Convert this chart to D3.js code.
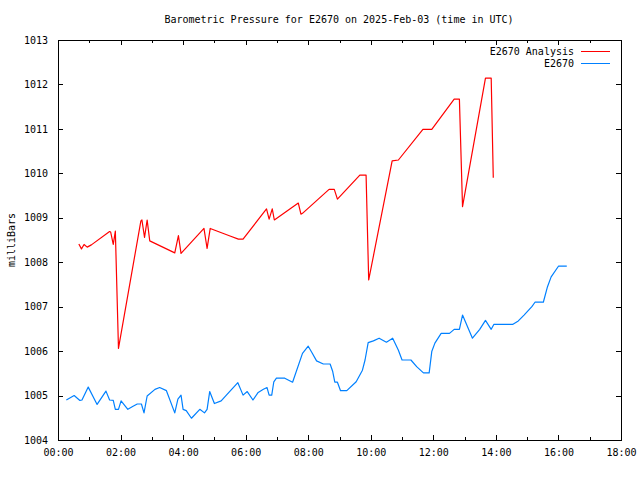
<!DOCTYPE html>
<html>
<head>
<meta charset="utf-8">
<script src="https://cdn.jsdelivr.net/npm/d3@7"></script>
<style>
  html, body { margin: 0; padding: 0; background: #fff; }
  svg { display: block; }
  text { font-family: "DejaVu Sans Mono", "Liberation Mono", monospace; font-size: 10px; fill: #000; }
</style>
</head>
<body>
<svg id="chart" width="640" height="480"></svg>
<script>
const title = "Barometric Pressure for E2670 on 2025-Feb-03 (time in UTC)";
const yLabel = "milliBars";
const seriesNames = ["E2670 Analysis", "E2670"];
const seriesColors = ["#ff0000", "#0080ff"];
const xTickLabels = ["00:00","02:00","04:00","06:00","08:00","10:00","12:00","14:00","16:00","18:00"];
const yTickValues = [1004,1005,1006,1007,1008,1009,1010,1011,1012,1013];

const analysisTimes = ["00:40","00:45","00:50","00:56","01:04","01:39","01:41","01:46","01:50","01:56",
  "02:39","02:41","02:46","02:51","02:56","03:44","03:51","03:56","04:40","04:44","04:46","04:52",
  "05:30","05:46","05:55","06:40","06:45","06:51","06:55","07:41","07:46","07:49","08:40","08:50","08:56",
  "09:39","09:51","09:56","10:41","10:53","11:40","11:57","12:40","12:50","12:56","13:40","13:51","13:55"];
const analysisValues = [1008.41,1008.30,1008.40,1008.34,1008.39,1008.69,1008.68,1008.40,1008.70,1006.06,
  1008.93,1008.95,1008.56,1008.95,1008.48,1008.21,1008.60,1008.20,1008.76,1008.46,1008.31,1008.76,
  1008.59,1008.52,1008.52,1009.20,1008.97,1009.20,1008.95,1009.33,1009.08,1009.10,1009.64,1009.64,1009.42,
  1009.96,1009.96,1007.60,1010.28,1010.30,1010.99,1010.99,1011.67,1011.67,1009.25,1012.14,1012.14,1009.90];

const obsTimes = ["00:16","00:31","00:42","00:46","00:58","01:15","01:32","01:39","01:46","01:50","01:56",
  "02:01","02:14","02:24","02:32","02:40","02:45","02:51","03:06","03:15","03:28","03:44","03:50","03:56",
  "04:00","04:06","04:16","04:32","04:41","04:46","04:51","05:00","05:13","05:23","05:45","05:55",
  "06:03","06:14","06:24","06:34","06:41","06:45","06:50","06:54","06:59","07:15","07:30","07:49",
  "08:00","08:07","08:16","08:29","08:42","08:47","08:51","08:56","09:02","09:14","09:32","09:44","09:49","09:55",
  "10:05","10:16","10:30","10:42","10:53","11:00","11:17","11:28","11:41","11:52","11:57",
  "12:03","12:15","12:31","12:40","12:50","12:56","13:15","13:29","13:40","13:51","13:56",
  "14:32","14:43","14:54","15:09","15:15","15:31","15:39","15:46","16:00","16:16"];
const obsValues = [1004.90,1005.00,1004.89,1004.90,1005.19,1004.80,1005.10,1004.90,1004.89,1004.69,1004.69,
  1004.88,1004.69,1004.76,1004.81,1004.81,1004.61,1004.99,1005.14,1005.18,1005.11,1004.61,1004.92,1005.01,
  1004.69,1004.66,1004.49,1004.69,1004.61,1004.69,1005.09,1004.82,1004.88,1005.01,1005.29,1005.01,
  1005.09,1004.90,1005.07,1005.14,1005.18,1005.01,1005.01,1005.31,1005.39,1005.39,1005.30,1005.95,
  1006.11,1005.97,1005.78,1005.71,1005.71,1005.54,1005.30,1005.30,1005.11,1005.11,1005.31,1005.57,1005.80,1006.19,
  1006.23,1006.29,1006.20,1006.29,1006.02,1005.80,1005.80,1005.65,1005.51,1005.51,1005.99,
  1006.18,1006.40,1006.40,1006.49,1006.49,1006.81,1006.29,1006.49,1006.69,1006.49,1006.60,
  1006.60,1006.68,1006.81,1007.00,1007.10,1007.10,1007.45,1007.67,1007.91,1007.91];

const toHours = s => { const [h, m] = s.split(":").map(Number); return h + m / 60; };

const svg = d3.select("#chart");
const L = 58, R = 621, T = 40, B = 440;
const x = d3.scaleLinear().domain([0, 18]).range([L, R]);
const y = d3.scaleLinear().domain([1004, 1013]).range([B, T]);

const majorX = xTickLabels.map(toHours);
const minorX = d3.range(1, 18, 2);

// axes (gnuplot-like inward ticks, mirrored)
const axB = d3.axisBottom(x).tickValues(majorX).tickFormat((d, i) => xTickLabels[i]).tickSizeInner(-5).tickSizeOuter(0).tickPadding(9);
const axT = d3.axisTop(x).tickValues(majorX).tickFormat("").tickSizeInner(-5).tickSizeOuter(0);
const axL = d3.axisLeft(y).tickValues(yTickValues).tickFormat(d3.format("d")).tickSizeInner(-5).tickSizeOuter(0).tickPadding(10);
const axR = d3.axisRight(y).tickValues(yTickValues).tickFormat("").tickSizeInner(-5).tickSizeOuter(0);
const mB = d3.axisBottom(x).tickValues(minorX).tickFormat("").tickSizeInner(-3).tickSizeOuter(0);
const mT = d3.axisTop(x).tickValues(minorX).tickFormat("").tickSizeInner(-3).tickSizeOuter(0);

function styleAxis(g) {
  g.attr("shape-rendering", "crispEdges");
  g.select(".domain").remove();
  g.selectAll("line").attr("stroke", "#000");
  g.selectAll("text").attr("fill", "#000").style("font-family", "'DejaVu Sans Mono', monospace").style("font-size", "10px");
}
svg.append("g").attr("transform", `translate(0,${B})`).call(axB).call(styleAxis);
svg.append("g").attr("transform", `translate(0,${T})`).call(axT).call(styleAxis);
svg.append("g").attr("transform", `translate(${L},0)`).call(axL).call(styleAxis);
svg.append("g").attr("transform", `translate(${R},0)`).call(axR).call(styleAxis);
svg.append("g").attr("transform", `translate(0,${B})`).call(mB).call(styleAxis);
svg.append("g").attr("transform", `translate(0,${T})`).call(mT).call(styleAxis);

// frame
svg.append("rect").attr("x", L + 0.5).attr("y", T + 0.5).attr("width", R - L).attr("height", B - T)
  .attr("fill", "none").attr("stroke", "#000").attr("shape-rendering", "crispEdges");

// lines
const line = d3.line().x(d => x(d[0])).y(d => y(d[1]));
const analysis = analysisTimes.map((t, i) => [toHours(t), analysisValues[i]]);
const obs = obsTimes.map((t, i) => [toHours(t), obsValues[i]]);
[analysis, obs].forEach((data, i) => {
  svg.append("path").datum(data).attr("d", line).attr("fill", "none")
    .attr("stroke", seriesColors[i]).attr("stroke-width", 1.2).attr("stroke-linejoin", "round");
});

// title
svg.append("text").attr("x", 339).attr("y", 23).attr("text-anchor", "middle").text(title);

// y label
svg.append("text").attr("transform", "translate(15,240) rotate(-90)").attr("text-anchor", "middle").text(yLabel);

// legend
seriesNames.forEach((name, i) => {
  const ly = 51 + i * 12;
  svg.append("text").attr("x", 574).attr("y", ly + 3.5).attr("text-anchor", "end").text(name);
  svg.append("line").attr("x1", 581).attr("x2", 610).attr("y1", ly + 0.5).attr("y2", ly + 0.5)
    .attr("stroke", seriesColors[i]).attr("stroke-width", 1).attr("shape-rendering", "crispEdges");
});
</script>
</body>
</html>
